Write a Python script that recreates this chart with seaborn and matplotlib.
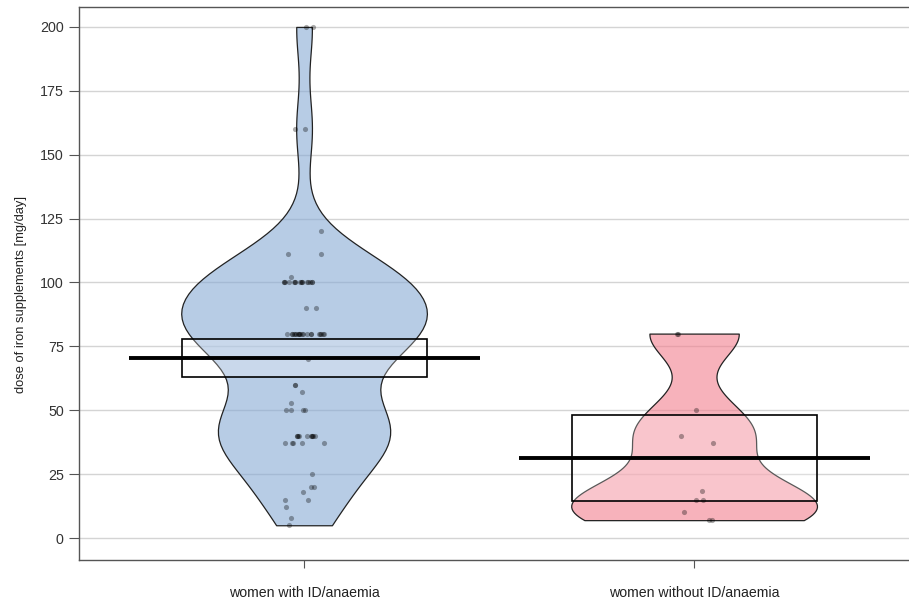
import numpy as np
import pandas as pd
import matplotlib
matplotlib.use("Agg")
import matplotlib.pyplot as plt
import seaborn as sns

# ---- data ----
groups = ["women with ID/anaemia", "women without ID/anaemia"]

dose_with = ([200] * 2 + [160] * 2 + [120] + [111] * 2 + [102] + [100] * 16 + [90] * 2 +
             [80] * 20 + [70] + [60] * 2 + [57] + [53] + [50] * 4 + [40] * 10 +
             [37] * 5 + [25] + [20] * 2 + [18] + [15] * 2 + [12] + [8] + [5])
dose_without = [80, 80, 50, 40, 37, 18.5, 15, 15, 10, 7, 7]

means = [70.5, 31.3]
ci_low = [63.2, 14.3]
ci_high = [78.0, 48.2]

yticks = [0, 25, 50, 75, 100, 125, 150, 175, 200]
ylabel = "dose of iron supplements [mg/day]"

df = pd.DataFrame({
    "group": [groups[0]] * len(dose_with) + [groups[1]] * len(dose_without),
    "dose": list(dose_with) + list(dose_without),
})

sns.set_theme(style="white")
plt.rcParams["font.family"] = ["Liberation Sans", "DejaVu Sans"]

fig = plt.figure(figsize=(9.09, 6.0), dpi=100)
ax = fig.add_axes([79 / 909, 40.5 / 600, 1 - 79 / 909, 553 / 600])

ax.yaxis.grid(True, color="#d4d4d4", linewidth=1.0)
ax.set_axisbelow(True)

violin_cols = ["#87aad4", "#f37f8e"]
bw_adj = [0.85, 0.59]
for g, col, bw in zip(groups, violin_cols, bw_adj):
    n_before = len(ax.collections)
    sns.violinplot(data=df[df["group"] == g], x="group", y="dose", order=groups,
                   color=col, cut=0, inner=None, density_norm="width",
                   bw_method="scott", bw_adjust=bw, width=0.63,
                   linewidth=0.9, linecolor="#222222", ax=ax)
    r, gg, b = matplotlib.colors.to_rgb(col)
    for coll in ax.collections[n_before:]:
        coll.set_facecolor((r, gg, b, 0.6))
        coll.set_edgecolor("#222222")

# inference boxes and mean lines
xs = np.arange(len(groups))
ax.bar(xs, np.array(ci_high) - np.array(ci_low), bottom=ci_low, width=0.628,
       facecolor=(1, 1, 1, 0.25), edgecolor="black", linewidth=1.2, zorder=3)
ax.hlines(means, xs - 0.45, xs + 0.45, color="black", linewidth=2.8, zorder=4)

np.random.seed(3)
sns.stripplot(data=df, x="group", y="dose", order=groups, color="black",
              alpha=0.33, size=3.7, jitter=0.055, linewidth=0, ax=ax, zorder=5)

ax.set_xlim(-0.577, 1.551)
ax.set_ylim(-8.4, 208)
ax.set_yticks(yticks)
ax.set_yticklabels([str(t) for t in yticks])
ax.set_xlabel("")
ax.set_ylabel(ylabel, fontsize=9.3, color="#222222")
ax.yaxis.set_label_coords(-0.063, 0.48)

ax.tick_params(axis="y", which="both", left=True, length=7, width=0.8,
               color="#555555", labelsize=10.3, labelcolor="#333333", pad=4)
ax.tick_params(axis="x", which="both", bottom=True, length=6, width=0.8,
               color="#555555", labelsize=10.2, labelcolor="#222222", pad=13)

for side in ["left", "bottom", "top"]:
    ax.spines[side].set_visible(True)
    ax.spines[side].set_color("#555555")
    ax.spines[side].set_linewidth(1.0)
ax.spines["right"].set_visible(False)

fig.savefig("out.png", dpi=100)
